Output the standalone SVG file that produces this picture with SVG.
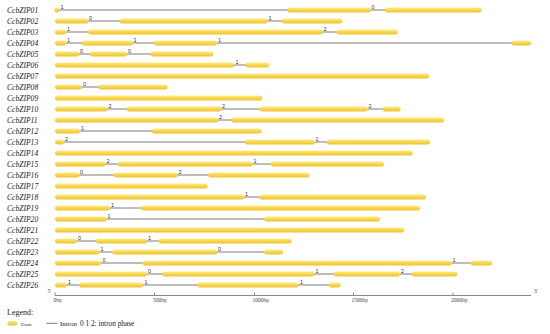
<svg xmlns="http://www.w3.org/2000/svg" width="550" height="334" viewBox="0 0 550 334">
<defs>
<linearGradient id="g" x1="0" y1="0" x2="0" y2="1">
<stop offset="0" stop-color="#FDEB95"/>
<stop offset="0.45" stop-color="#F9D84E"/>
<stop offset="1" stop-color="#EDC131"/>
</linearGradient>
</defs>
<style>
.lb{font-family:"Liberation Serif",serif;font-style:italic;font-size:7.6px;fill:#222}
.ex{fill:url(#g)}
.in{stroke:#7a7a7a;stroke-width:1}
.ph{font-family:"Liberation Sans",sans-serif;font-size:5.5px;fill:#333}
.ax{stroke:#888;stroke-width:1}
.tk{font-family:"Liberation Serif",serif;font-size:5.5px;fill:#444}
.lg{font-family:"Liberation Serif",serif;fill:#222}
</style>
<rect width="550" height="334" fill="#fff"/>
<g id="CcbZIP01" transform="translate(0,10)"><text class="lb" x="7" y="2.7">CcbZIP01</text><line class="in" x1="59" y1="0" x2="288" y2="0"/><line class="in" x1="370" y1="0" x2="386" y2="0"/><rect class="ex" x="54.5" y="-2.5" width="5" height="5" rx="2.5"/><rect class="ex" x="287.3" y="-2.5" width="83.4" height="5" rx="2.5"/><rect class="ex" x="385" y="-2.5" width="96.7" height="5" rx="2.5"/><text class="ph" x="60.5" y="-1">1</text><text class="ph" x="371.5" y="-1">0</text></g>
<g id="CcbZIP02" transform="translate(0,21)"><text class="lb" x="7" y="2.7">CcbZIP02</text><line class="in" x1="88" y1="0" x2="120" y2="0"/><line class="in" x1="267" y1="0" x2="282" y2="0"/><rect class="ex" x="55" y="-2.5" width="33.3" height="5" rx="2.5"/><rect class="ex" x="119.3" y="-2.5" width="148.4" height="5" rx="2.5"/><rect class="ex" x="281.7" y="-2.5" width="60.6" height="5" rx="2.5"/><text class="ph" x="89" y="-1">0</text><text class="ph" x="268.5" y="-1">1</text></g>
<g id="CcbZIP03" transform="translate(0,32)"><text class="lb" x="7" y="2.7">CcbZIP03</text><line class="in" x1="66" y1="0" x2="89" y2="0"/><line class="in" x1="322" y1="0" x2="337" y2="0"/><rect class="ex" x="55" y="-2.5" width="11" height="5" rx="2.5"/><rect class="ex" x="88.3" y="-2.5" width="234.4" height="5" rx="2.5"/><rect class="ex" x="336.7" y="-2.5" width="61" height="5" rx="2.5"/><text class="ph" x="67" y="-1">1</text><text class="ph" x="323.5" y="-1">2</text></g>
<g id="CcbZIP04" transform="translate(0,43)"><text class="lb" x="7" y="2.7">CcbZIP04</text><line class="in" x1="66" y1="0" x2="82" y2="0"/><line class="in" x1="132" y1="0" x2="155" y2="0"/><line class="in" x1="217" y1="0" x2="512" y2="0"/><rect class="ex" x="55" y="-2.5" width="11" height="5" rx="2.5"/><rect class="ex" x="81.7" y="-2.5" width="51" height="5" rx="2.5"/><rect class="ex" x="154.3" y="-2.5" width="62.7" height="5" rx="2.5"/><rect class="ex" x="511.7" y="-2.5" width="19.3" height="5" rx="2.5"/><text class="ph" x="67" y="-1">1</text><text class="ph" x="133.5" y="-1">1</text><text class="ph" x="218" y="-1">1</text></g>
<g id="CcbZIP05" transform="translate(0,54)"><text class="lb" x="7" y="2.7">CcbZIP05</text><line class="in" x1="79" y1="0" x2="91" y2="0"/><line class="in" x1="127" y1="0" x2="151" y2="0"/><rect class="ex" x="55" y="-2.5" width="24.3" height="5" rx="2.5"/><rect class="ex" x="90" y="-2.5" width="37" height="5" rx="2.5"/><rect class="ex" x="150.7" y="-2.5" width="62.6" height="5" rx="2.5"/><text class="ph" x="80" y="-1">0</text><text class="ph" x="128" y="-1">0</text></g>
<g id="CcbZIP06" transform="translate(0,65)"><text class="lb" x="7" y="2.7">CcbZIP06</text><line class="in" x1="234" y1="0" x2="246" y2="0"/><rect class="ex" x="55" y="-2.5" width="179.3" height="5" rx="2.5"/><rect class="ex" x="245.3" y="-2.5" width="24" height="5" rx="2.5"/><text class="ph" x="235.5" y="-1">1</text></g>
<g id="CcbZIP07" transform="translate(0,76)"><text class="lb" x="7" y="2.7">CcbZIP07</text><rect class="ex" x="55" y="-2.5" width="374.3" height="5" rx="2.5"/></g>
<g id="CcbZIP08" transform="translate(0,87)"><text class="lb" x="7" y="2.7">CcbZIP08</text><line class="in" x1="82" y1="0" x2="99" y2="0"/><rect class="ex" x="55" y="-2.5" width="27" height="5" rx="2.5"/><rect class="ex" x="98.7" y="-2.5" width="69" height="5" rx="2.5"/><text class="ph" x="83" y="-1">0</text></g>
<g id="CcbZIP09" transform="translate(0,98)"><text class="lb" x="7" y="2.7">CcbZIP09</text><rect class="ex" x="55" y="-2.5" width="207.3" height="5" rx="2.5"/></g>
<g id="CcbZIP10" transform="translate(0,109)"><text class="lb" x="7" y="2.7">CcbZIP10</text><line class="in" x1="107" y1="0" x2="127" y2="0"/><line class="in" x1="221" y1="0" x2="260" y2="0"/><line class="in" x1="367" y1="0" x2="383" y2="0"/><rect class="ex" x="55" y="-2.5" width="52.7" height="5" rx="2.5"/><rect class="ex" x="126.7" y="-2.5" width="94.6" height="5" rx="2.5"/><rect class="ex" x="259.3" y="-2.5" width="108.4" height="5" rx="2.5"/><rect class="ex" x="382.7" y="-2.5" width="18" height="5" rx="2.5"/><text class="ph" x="108.5" y="-1">2</text><text class="ph" x="222" y="-1">2</text><text class="ph" x="368.5" y="-1">2</text></g>
<g id="CcbZIP11" transform="translate(0,120)"><text class="lb" x="7" y="2.7">CcbZIP11</text><line class="in" x1="218" y1="0" x2="232" y2="0"/><rect class="ex" x="55" y="-2.5" width="163.3" height="5" rx="2.5"/><rect class="ex" x="231" y="-2.5" width="213" height="5" rx="2.5"/><text class="ph" x="219" y="-1">2</text></g>
<g id="CcbZIP12" transform="translate(0,131)"><text class="lb" x="7" y="2.7">CcbZIP12</text><line class="in" x1="80" y1="0" x2="152" y2="0"/><rect class="ex" x="55" y="-2.5" width="25" height="5" rx="2.5"/><rect class="ex" x="151.7" y="-2.5" width="110" height="5" rx="2.5"/><text class="ph" x="81" y="-1">1</text></g>
<g id="CcbZIP13" transform="translate(0,142)"><text class="lb" x="7" y="2.7">CcbZIP13</text><line class="in" x1="64" y1="0" x2="246" y2="0"/><line class="in" x1="315" y1="0" x2="327" y2="0"/><rect class="ex" x="55" y="-2.5" width="9" height="5" rx="2.5"/><rect class="ex" x="245" y="-2.5" width="70" height="5" rx="2.5"/><rect class="ex" x="326.7" y="-2.5" width="103.3" height="5" rx="2.5"/><text class="ph" x="65" y="-1">2</text><text class="ph" x="315.5" y="-1">1</text></g>
<g id="CcbZIP14" transform="translate(0,153)"><text class="lb" x="7" y="2.7">CcbZIP14</text><rect class="ex" x="55" y="-2.5" width="357.7" height="5" rx="2.5"/></g>
<g id="CcbZIP15" transform="translate(0,164)"><text class="lb" x="7" y="2.7">CcbZIP15</text><line class="in" x1="105" y1="0" x2="118" y2="0"/><line class="in" x1="252" y1="0" x2="271" y2="0"/><rect class="ex" x="55" y="-2.5" width="50.3" height="5" rx="2.5"/><rect class="ex" x="117.7" y="-2.5" width="135" height="5" rx="2.5"/><rect class="ex" x="270.7" y="-2.5" width="113.3" height="5" rx="2.5"/><text class="ph" x="106.5" y="-1">2</text><text class="ph" x="253.5" y="-1">1</text></g>
<g id="CcbZIP16" transform="translate(0,175)"><text class="lb" x="7" y="2.7">CcbZIP16</text><line class="in" x1="79" y1="0" x2="115" y2="0"/><line class="in" x1="177" y1="0" x2="209" y2="0"/><rect class="ex" x="55" y="-2.5" width="24.3" height="5" rx="2.5"/><rect class="ex" x="114" y="-2.5" width="63.7" height="5" rx="2.5"/><rect class="ex" x="208.3" y="-2.5" width="101" height="5" rx="2.5"/><text class="ph" x="80" y="-1">0</text><text class="ph" x="178.5" y="-1">2</text></g>
<g id="CcbZIP17" transform="translate(0,186)"><text class="lb" x="7" y="2.7">CcbZIP17</text><rect class="ex" x="55" y="-2.5" width="152.7" height="5" rx="2.5"/></g>
<g id="CcbZIP18" transform="translate(0,197)"><text class="lb" x="7" y="2.7">CcbZIP18</text><line class="in" x1="244" y1="0" x2="260" y2="0"/><rect class="ex" x="55" y="-2.5" width="189" height="5" rx="2.5"/><rect class="ex" x="259" y="-2.5" width="167" height="5" rx="2.5"/><text class="ph" x="245" y="-1">1</text></g>
<g id="CcbZIP19" transform="translate(0,208)"><text class="lb" x="7" y="2.7">CcbZIP19</text><line class="in" x1="110" y1="0" x2="142" y2="0"/><rect class="ex" x="55" y="-2.5" width="55" height="5" rx="2.5"/><rect class="ex" x="141.3" y="-2.5" width="278.7" height="5" rx="2.5"/><text class="ph" x="111" y="-1">1</text></g>
<g id="CcbZIP20" transform="translate(0,219)"><text class="lb" x="7" y="2.7">CcbZIP20</text><line class="in" x1="106" y1="0" x2="265" y2="0"/><rect class="ex" x="55" y="-2.5" width="51.7" height="5" rx="2.5"/><rect class="ex" x="264" y="-2.5" width="116" height="5" rx="2.5"/><text class="ph" x="107.5" y="-1">1</text></g>
<g id="CcbZIP21" transform="translate(0,230)"><text class="lb" x="7" y="2.7">CcbZIP21</text><rect class="ex" x="55" y="-2.5" width="349" height="5" rx="2.5"/></g>
<g id="CcbZIP22" transform="translate(0,241)"><text class="lb" x="7" y="2.7">CcbZIP22</text><line class="in" x1="77" y1="0" x2="97" y2="0"/><line class="in" x1="147" y1="0" x2="159" y2="0"/><rect class="ex" x="55" y="-2.5" width="22" height="5" rx="2.5"/><rect class="ex" x="96" y="-2.5" width="51.3" height="5" rx="2.5"/><rect class="ex" x="158.7" y="-2.5" width="133" height="5" rx="2.5"/><text class="ph" x="78" y="-1">0</text><text class="ph" x="148" y="-1">1</text></g>
<g id="CcbZIP23" transform="translate(0,252)"><text class="lb" x="7" y="2.7">CcbZIP23</text><line class="in" x1="99" y1="0" x2="113" y2="0"/><line class="in" x1="217" y1="0" x2="265" y2="0"/><rect class="ex" x="55" y="-2.5" width="44.3" height="5" rx="2.5"/><rect class="ex" x="112.3" y="-2.5" width="105" height="5" rx="2.5"/><rect class="ex" x="264" y="-2.5" width="19.3" height="5" rx="2.5"/><text class="ph" x="100.5" y="-1">1</text><text class="ph" x="218" y="-1">0</text></g>
<g id="CcbZIP24" transform="translate(0,263)"><text class="lb" x="7" y="2.7">CcbZIP24</text><line class="in" x1="101" y1="0" x2="143" y2="0"/><line class="in" x1="451" y1="0" x2="471" y2="0"/><rect class="ex" x="55" y="-2.5" width="46" height="5" rx="2.5"/><rect class="ex" x="142.7" y="-2.5" width="309" height="5" rx="2.5"/><rect class="ex" x="470.7" y="-2.5" width="21.3" height="5" rx="2.5"/><text class="ph" x="102.5" y="-1">0</text><text class="ph" x="452.5" y="-1">1</text></g>
<g id="CcbZIP25" transform="translate(0,274)"><text class="lb" x="7" y="2.7">CcbZIP25</text><line class="in" x1="147" y1="0" x2="163" y2="0"/><line class="in" x1="314" y1="0" x2="335" y2="0"/><line class="in" x1="400" y1="0" x2="412" y2="0"/><rect class="ex" x="55" y="-2.5" width="92" height="5" rx="2.5"/><rect class="ex" x="162.3" y="-2.5" width="152" height="5" rx="2.5"/><rect class="ex" x="334" y="-2.5" width="66" height="5" rx="2.5"/><rect class="ex" x="411.7" y="-2.5" width="45.6" height="5" rx="2.5"/><text class="ph" x="148" y="-1">0</text><text class="ph" x="315.5" y="-1">1</text><text class="ph" x="401" y="-1">2</text></g>
<g id="CcbZIP26" transform="translate(0,285)"><text class="lb" x="7" y="2.7">CcbZIP26</text><line class="in" x1="66" y1="0" x2="80" y2="0"/><line class="in" x1="143" y1="0" x2="198" y2="0"/><line class="in" x1="298" y1="0" x2="330" y2="0"/><rect class="ex" x="55" y="-2.5" width="11.7" height="5" rx="2.5"/><rect class="ex" x="79" y="-2.5" width="64.3" height="5" rx="2.5"/><rect class="ex" x="197.3" y="-2.5" width="101" height="5" rx="2.5"/><rect class="ex" x="329" y="-2.5" width="11.7" height="5" rx="2.5"/><text class="ph" x="68" y="-1">1</text><text class="ph" x="144.5" y="-1">1</text><text class="ph" x="300" y="-1">1</text></g>
<g id="axis">
<line class="ax" x1="55" y1="295.5" x2="531" y2="295.5"/>
<line class="ax" x1="55" y1="292.5" x2="55" y2="295.5"/>
<line class="ax" x1="154.5" y1="292.5" x2="154.5" y2="295.5"/>
<line class="ax" x1="254.5" y1="292.5" x2="254.5" y2="295.5"/>
<line class="ax" x1="353.5" y1="292.5" x2="353.5" y2="295.5"/>
<line class="ax" x1="453" y1="292.5" x2="453" y2="295.5"/>
<text class="tk" x="53.5" y="301.5">0bp</text>
<text class="tk" x="153" y="301.5">500bp</text>
<text class="tk" x="252.5" y="301.5">1000bp</text>
<text class="tk" x="351.5" y="301.5">1500bp</text>
<text class="tk" x="451" y="301.5">2000bp</text>
<text class="tk" x="47.5" y="293">5'</text>
<text class="tk" x="534" y="292.5">3'</text>
</g>
<g id="legend">
<text class="lg" x="7" y="315" font-size="8">Legend:</text>
<rect class="ex" x="7.3" y="321" width="10" height="4.5" rx="2.2"/>
<text class="lg" x="21" y="325.5" font-size="5">Exon</text>
<line class="in" x1="46.5" y1="323.3" x2="57.5" y2="323.3"/>
<text class="lg" x="60" y="325.8" font-size="7">Intron</text>
<text class="lg" x="80" y="325.8" font-size="7.3">0 1 2: intron phase</text>
</g>
</svg>
